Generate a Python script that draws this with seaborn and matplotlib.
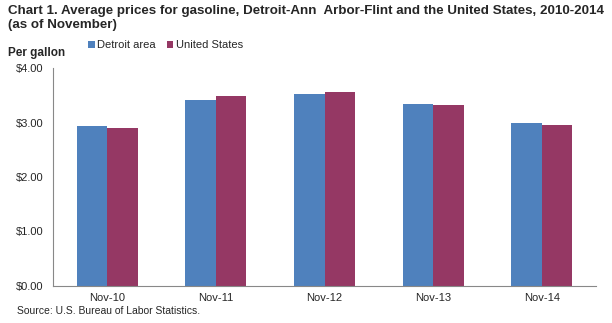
import matplotlib
matplotlib.use("Agg")
import matplotlib.pyplot as plt
import seaborn as sns
import pandas as pd
from matplotlib.ticker import FuncFormatter, FixedLocator
from matplotlib.patches import Patch

categories = ["Nov-10", "Nov-11", "Nov-12", "Nov-13", "Nov-14"]
detroit = [2.94, 3.41, 3.52, 3.34, 2.99]
united_states = [2.90, 3.49, 3.56, 3.32, 2.95]
series_names = ["Detroit area", "United States"]
yticks = [0, 1, 2, 3, 4]

df = pd.DataFrame({
    "month": categories * 2,
    "price": detroit + united_states,
    "series": [series_names[0]] * len(categories) + [series_names[1]] * len(categories),
})

sns.set_style("white")
plt.rcParams["font.family"] = ["Liberation Sans", "DejaVu Sans"]

fig = plt.figure(figsize=(6.12, 3.23), dpi=100)
ax = fig.add_axes([53/612, 37/323, 543/612, 218/323])

sns.barplot(data=df, x="month", y="price", hue="series", order=categories,
            hue_order=series_names, palette=["#4F81BD", "#953864"],
            width=0.56, gap=0, ax=ax, legend=False, saturation=1)
for p in ax.patches:
    p.set_edgecolor("none")

ax.set_xlim(-0.5, len(categories) - 0.5)
ax.set_ylim(0, 4)
ax.set_yticks(yticks)
ax.yaxis.set_major_formatter(FuncFormatter(lambda v, _: f"${v:.2f}"))
ax.set_xlabel("")
ax.set_ylabel("")
ax.xaxis.set_major_locator(FixedLocator(range(len(categories))))
ax.set_xticklabels(categories)
ax.xaxis.set_minor_locator(FixedLocator([i - 0.5 for i in range(len(categories) + 1)]))
ax.tick_params(axis="x", which="major", length=0, labelsize=8, pad=5)
ax.tick_params(axis="x", which="minor", length=4, color="#888888", direction="out")
ax.tick_params(axis="y", length=4, color="#888888", direction="out", labelsize=8, pad=3)
for s in ["top", "right"]:
    ax.spines[s].set_visible(False)
for s in ["left", "bottom"]:
    ax.spines[s].set_color("#888888")
    ax.spines[s].set_linewidth(0.8)

fig.text(8/612, 1 - 5/323, "Chart 1. Average prices for gasoline, Detroit-Ann  Arbor-Flint and the United States, 2010-2014\n(as of November)",
         weight="bold", fontsize=9.6, va="top", ha="left", linespacing=1.2)
fig.text(8/612, 1 - 53/323, "Per gallon", weight="bold", fontsize=8.5, va="center", ha="left")

handles = [Patch(facecolor=c, edgecolor="none") for c in ["#4F81BD", "#953864"]]
fig.legend(handles, series_names, loc="center left", bbox_to_anchor=(88/612, 1 - 45/323),
           ncol=2, frameon=False, fontsize=8, handlelength=0.6, handleheight=0.6,
           handletextpad=0.2, columnspacing=1.0, borderaxespad=0, borderpad=0)

fig.text(17/612, 1 - 311/323, "Source: U.S. Bureau of Labor Statistics.", fontsize=7.5, va="center", ha="left")

fig.savefig("out.png", dpi=100)
